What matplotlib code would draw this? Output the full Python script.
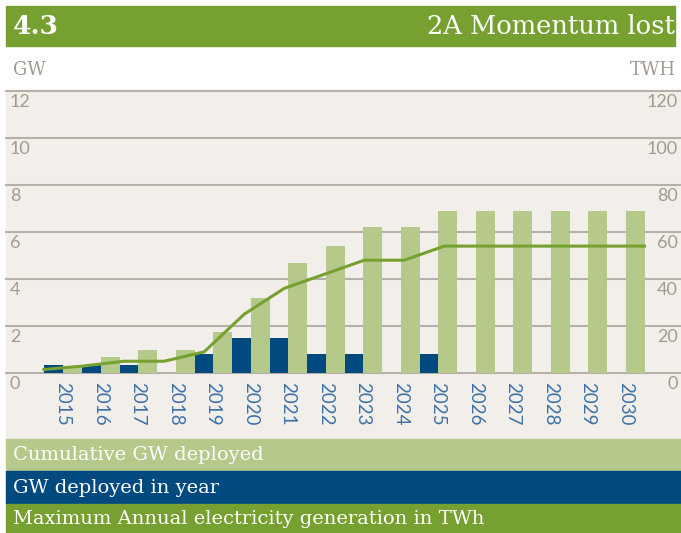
import numpy as np
import matplotlib.pyplot as plt
from matplotlib.patches import Rectangle
import matplotlib.transforms as mtransforms

# chart data
years = [str(y) for y in range(2015, 2031)]
gw_in_year = [0.35, 0.35, 0.35, 0, 0.8, 1.5, 1.5, 0.8, 0.8, 0, 0.8, 0, 0, 0, 0, 0]
gw_cumulative = [0.3, 0.7, 1.0, 1.0, 1.75, 3.2, 4.7, 5.4, 6.2, 6.2, 6.9, 6.9, 6.9, 6.9, 6.9, 6.9]
twh_max = [1.5, 3, 5, 5, 9, 25, 36, 42, 48, 48, 54, 54, 54, 54, 54, 54]
gw_ticks = [0, 2, 4, 6, 8, 10, 12]
twh_ticks = [0, 20, 40, 60, 80, 100, 120]

light_green = '#b5c98b'
dark_blue = '#004a80'
green = '#76a030'
bg = '#f2efeb'
grid_col = '#b8b0a8'
label_col = '#a39a91'
year_col = '#3d72a8'

W, H = 681, 533
fig = plt.figure(figsize=(W / 100, H / 100), dpi=100)

def px_rect(x0, y0, x1, y1, color):
    # rectangle given in pixel coords from the top left
    fig.patches.append(Rectangle((x0 / W, 1 - y1 / H), (x1 - x0) / W, (y1 - y0) / H,
                                 transform=fig.transFigure, color=color, zorder=-5))

# header, chart background, legend rows
px_rect(6, 6, 675, 46, green)
px_rect(6, 90, 681, 439, bg)
px_rect(6, 439, 681, 471, light_green)
px_rect(6, 471, 681, 504, dark_blue)
px_rect(6, 504, 681, 533, green)

fig.text(13 / W, 1 - 26 / H, '4.3', color='white', fontsize=19, family='DejaVu Serif',
         va='center', ha='left', weight='bold')
fig.text(675 / W, 1 - 26 / H, '2A Momentum lost', color='white', fontsize=18.5,
         family='DejaVu Serif', va='center', ha='right')
fig.text(13 / W, 1 - 70 / H, 'GW', color=label_col, fontsize=13, family='DejaVu Serif',
         va='center', ha='left')
fig.text(676 / W, 1 - 70 / H, 'TWH', color=label_col, fontsize=13, family='DejaVu Serif',
         va='center', ha='right')

legend_rows = [('Cumulative GW deployed', 455),
               ('GW deployed in year', 488),
               ('Maximum Annual electricity generation in TWh', 519)]
for txt, yc in legend_rows:
    fig.text(13 / W, 1 - yc / H, txt, color='white', fontsize=14, family='DejaVu Serif',
             va='center', ha='left')

# main axes: y=0 at px 373, y=12 at px 91
y_top, y_bot = 91, 373
rect = [6 / W, 1 - y_bot / H, 675 / W, (y_bot - y_top) / H]
ax = fig.add_axes(rect)
ax.set_facecolor('none')
step = 37.5          # px between categories
c0 = 63 - 6          # px of first category centre from axes left
xmin = -c0 / step
xmax = (675 - c0) / step
ax.set_xlim(xmin, xmax)
ax.set_ylim(0, 12)

x = np.arange(len(years))
bw = 19 / step
ax.bar(x - bw / 2, gw_in_year, width=bw, color=dark_blue, zorder=3)
ax.bar(x + bw / 2, gw_cumulative, width=bw, color=light_green, zorder=3)

for t in gw_ticks:
    ax.axhline(t, color=grid_col, lw=1.5, clip_on=False, zorder=1)

for sp in ax.spines.values():
    sp.set_visible(False)
ax.set_xticks([])
ax.set_yticks([])

trans = mtransforms.blended_transform_factory(ax.transAxes, ax.transData)
shift = mtransforms.ScaledTranslation(0, -3 / 100, fig.dpi_scale_trans)
for t in gw_ticks:
    ax.text(4 / 675, t, str(t), transform=trans + shift, color=label_col, fontsize=13,
            family='Lato', va='top', ha='left')
for t, v in zip(gw_ticks, twh_ticks):
    ax.text(672 / 675, t, str(v), transform=trans + shift, color=label_col, fontsize=13,
            family='Lato', va='top', ha='right')

for i, yr in enumerate(years):
    ax.text(i, -0.4, yr, color=year_col, fontsize=13.5, family='Lato', rotation=270,
            ha='center', va='top')

# line on its own axes: runs from left edge of first group to right edge of last
lax = fig.add_axes(rect)
lax.set_facecolor('none')
lax.axis('off')
s = (len(years) - 1 + 2 * bw) / (len(years) - 1)
lax.set_xlim((xmin + bw) / s, (xmax + bw) / s)
lax.set_ylim(0, 120)
lax.plot(x, twh_max, color=green, lw=2.2, solid_joinstyle='miter', zorder=4)

fig.savefig('out.png', dpi=100)
